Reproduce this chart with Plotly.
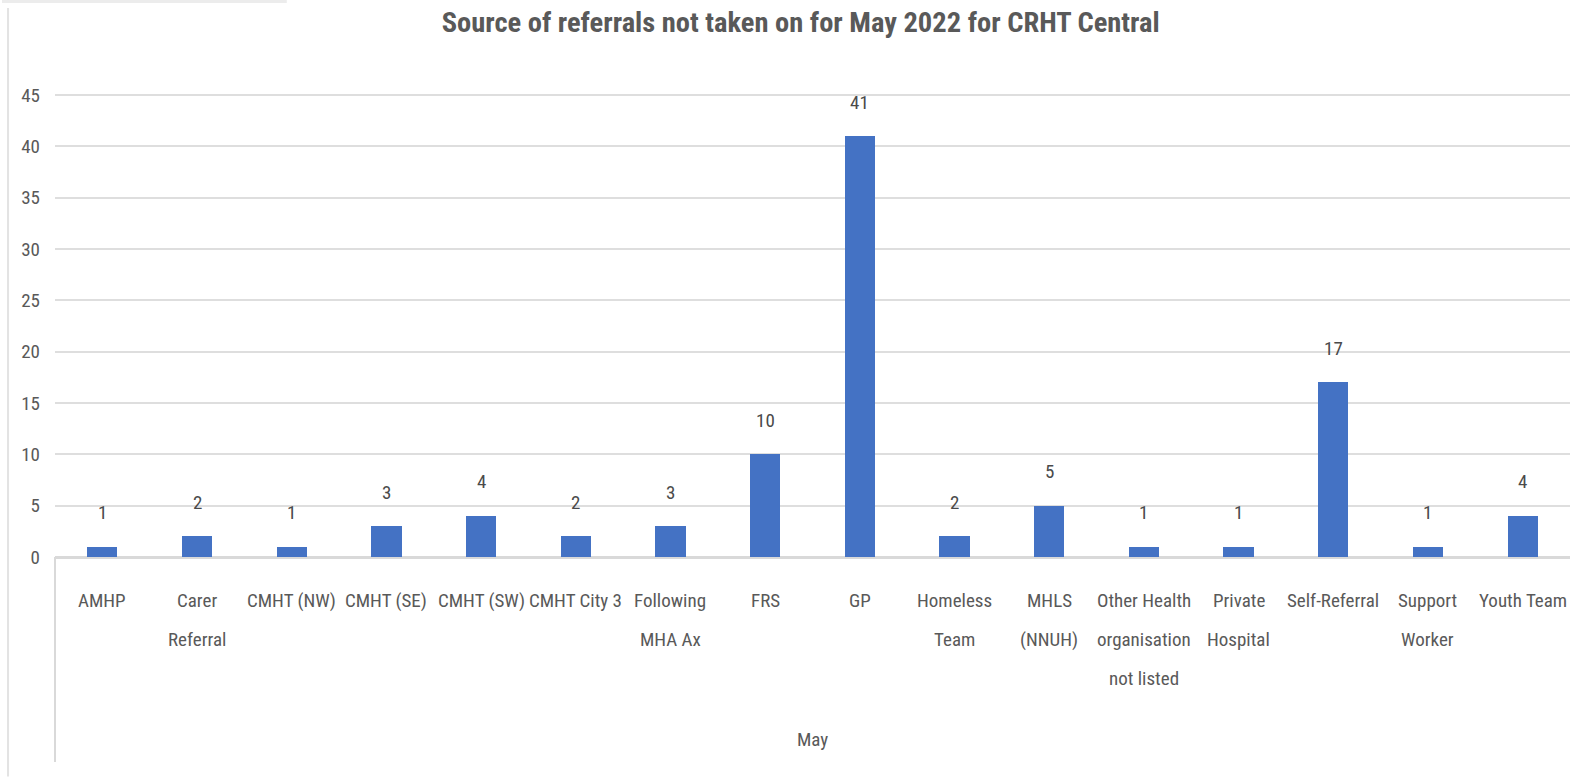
import plotly.graph_objects as go

categories = ["AMHP", "Carer\nReferral", "CMHT (NW)", "CMHT (SE)", "CMHT (SW)", "CMHT City 3",
              "Following\nMHA Ax", "FRS", "GP", "Homeless\nTeam", "MHLS\n(NNUH)",
              "Other Health\norganisation\nnot listed", "Private\nHospital", "Self-Referral",
              "Support\nWorker", "Youth Team"]
values = [1, 2, 1, 3, 4, 2, 3, 10, 41, 2, 5, 1, 1, 17, 1, 4]
y_ticks = [0, 5, 10, 15, 20, 25, 30, 35, 40, 45]
group_label = "May"
title = "Source of referrals not taken on for May 2022 for CRHT Central"

FONT = "Liberation Sans Narrow, Roboto Condensed, Arial Narrow, Roboto, sans-serif"
GREY = "#595959"

fig = go.Figure()
fig.add_trace(go.Bar(x=list(range(len(categories))), y=values, width=0.32,
                     marker=dict(color="#4472C4", line=dict(width=0)), showlegend=False))

annotations = []
for i, (c, v) in enumerate(zip(categories, values)):
    annotations.append(dict(x=i, y=v, xref="x", yref="y", text=str(v), showarrow=False,
                            yanchor="middle", yshift=34,
                            font=dict(family=FONT, size=19, color="#4a4a4a")))
    for j, line in enumerate(c.split("\n")):
        annotations.append(dict(x=i, y=0, xref="x", yref="y", text=line, showarrow=False,
                                yanchor="middle", yshift=-43 - 39 * j,
                                font=dict(family=FONT, size=19, color=GREY)))
annotations.append(dict(x=0.5, y=-0.395, xref="paper", yref="paper", text=group_label,
                        showarrow=False, yanchor="middle",
                        font=dict(family=FONT, size=19, color=GREY)))

fig.update_layout(
    width=1570, height=777,
    margin=dict(l=55, r=0, t=94, b=220),
    paper_bgcolor="white", plot_bgcolor="white",
    title=dict(text="<b>" + title + "</b>", x=0.51, xanchor="center", y=0.972, yanchor="middle",
               font=dict(family=FONT, size=28.5, color=GREY)),
    annotations=annotations,
    bargap=0,
    xaxis=dict(range=[-0.5, len(categories) - 0.5], showticklabels=False, showgrid=False,
               zeroline=False, showline=False, ticks=""),
    yaxis=dict(range=[0, 45.1], tickvals=y_ticks, ticktext=[str(t) for t in y_ticks],
               showgrid=True, gridcolor="#dedede", gridwidth=2, zeroline=True,
               zerolinecolor="#d9d9d9", zerolinewidth=3, ticks="", ticklabelstandoff=14,
               tickfont=dict(family=FONT, size=19, color=GREY)),
    shapes=[
        dict(type="line", xref="paper", yref="paper", x0=0, x1=0, y0=0, y1=-0.443,
             line=dict(color="#d9d9d9", width=2)),
        dict(type="line", xref="paper", yref="paper", x0=-0.031, x1=-0.031, y0=1.186, y1=-0.474,
             line=dict(color="#e3e3e3", width=2)),
        dict(type="line", xref="paper", yref="paper", x0=-0.035, x1=0.153, y0=1.2, y1=1.2,
             line=dict(color="#ececec", width=3)),
    ],
)

fig.write_html("out.html")
